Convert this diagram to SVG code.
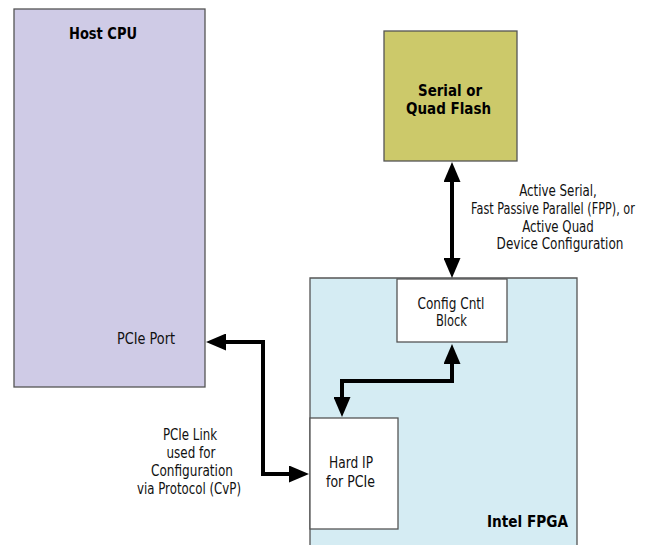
<svg xmlns="http://www.w3.org/2000/svg" width="646" height="545" viewBox="0 0 646 545">
<style>
.box{stroke:#555;stroke-width:1.3}
.b{font-family:"DejaVu Sans Condensed","DejaVu Sans","Liberation Sans",sans-serif;font-stretch:condensed;font-weight:bold;font-size:16px;fill:#000;text-anchor:middle}
.t{font-family:"DejaVu Sans Condensed","DejaVu Sans","Liberation Sans",sans-serif;font-stretch:condensed;font-size:15px;fill:#111;text-anchor:middle}
.c{fill:none;stroke:#000;stroke-width:4;stroke-linejoin:miter}
</style>
<defs>
<marker id="ah" markerUnits="userSpaceOnUse" markerWidth="20" markerHeight="17" viewBox="0 0 20 17" refX="4" refY="8.5" orient="auto-start-reverse">
<path d="M0,0 L20,8.5 L0,17 z" fill="#000"/>
</marker>
</defs>
<rect width="646" height="545" fill="#fff"/>
<g id="host-cpu">
<rect class="box" x="14" y="9" width="191" height="378" fill="#CFCBE6"/>
<text class="b" x="103" y="39" textLength="68" lengthAdjust="spacingAndGlyphs">Host CPU</text>
<text class="t" x="146" y="344" textLength="58" lengthAdjust="spacingAndGlyphs">PCIe Port</text>
</g>
<g id="flash">
<rect class="box" x="384" y="31" width="133" height="130" fill="#CCC96A"/>
<text class="b" x="450" y="96" textLength="64" lengthAdjust="spacingAndGlyphs">Serial or</text>
<text class="b" x="448.5" y="114" textLength="85" lengthAdjust="spacingAndGlyphs">Quad Flash</text>
</g>
<g id="fpga">
<path class="box" d="M310,545 V278 H577 V545" fill="#D5ECF3"/>
<text class="b" x="527.5" y="527" textLength="81" lengthAdjust="spacingAndGlyphs">Intel FPGA</text>
</g>
<g id="config-cntl">
<rect class="box" x="397" y="279" width="110" height="63" fill="#fff"/>
<text class="t" x="451" y="309" textLength="67" lengthAdjust="spacingAndGlyphs">Config Cntl</text>
<text class="t" x="451.5" y="326" textLength="31" lengthAdjust="spacingAndGlyphs">Block</text>
</g>
<g id="hard-ip">
<rect class="box" x="310" y="418" width="88" height="111" fill="#fff"/>
<text class="t" x="351" y="468" textLength="44" lengthAdjust="spacingAndGlyphs">Hard IP</text>
<text class="t" x="350.5" y="487" textLength="49" lengthAdjust="spacingAndGlyphs">for  PCIe</text>
</g>
<g id="connectors">
<path class="c" d="M452,178 V262" marker-start="url(#ah)" marker-end="url(#ah)"/>
<path class="c" d="M452,360 V381 H342 V401" marker-start="url(#ah)" marker-end="url(#ah)"/>
<path class="c" d="M222,342 H263 V474 H293" marker-start="url(#ah)" marker-end="url(#ah)"/>
</g>
<g id="labels">
<text class="t" transform="translate(558,196) scale(0.88,1)">Active Serial,</text>
<text class="t" transform="translate(553,214) scale(0.837,1)">Fast Passive Parallel (FPP), or</text>
<text class="t" transform="translate(558,231.5) scale(0.874,1)">Active Quad</text>
<text class="t" transform="translate(560,249) scale(0.893,1)">Device Configuration</text>
<text class="t" x="190" y="440" textLength="54" lengthAdjust="spacingAndGlyphs">PCIe Link</text>
<text class="t" x="191" y="458" textLength="49" lengthAdjust="spacingAndGlyphs">used for</text>
<text class="t" x="192" y="476" textLength="82" lengthAdjust="spacingAndGlyphs">Configuration</text>
<text class="t" x="189" y="494" textLength="104" lengthAdjust="spacingAndGlyphs">via Protocol (CvP)</text>
</g>
</svg>
